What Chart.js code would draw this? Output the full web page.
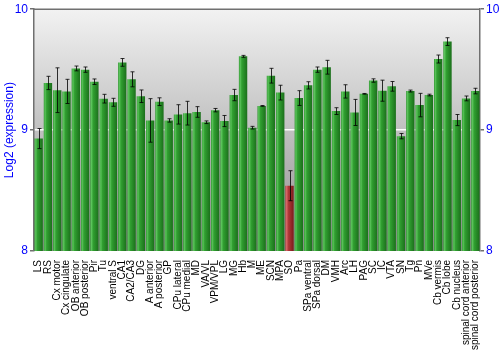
<!DOCTYPE html>
<html>
<head>
<meta charset="utf-8">
<script src="https://cdn.jsdelivr.net/npm/chart.js@4"></script>
<style>
  html, body { margin: 0; padding: 0; background: #fff; }
  #wrap { width: 500px; height: 350px; }
</style>
</head>
<body>
<div id="wrap"><canvas id="chart"></canvas></div>
<script>
const regions = ['LS', 'RS', 'Cx motor', 'Cx cingulate', 'OB anterior', 'OB posterior', 'Pir', 'Tu',
    'ventral S', 'CA1', 'CA2/CA3', 'DG', 'A anterior', 'A posterior', 'GP', 'CPu lateral', 'CPu medial',
    'MD', 'VA/VL', 'VPM/VPL', 'LG', 'MG', 'Hb', 'M', 'ME', 'SCN', 'MPA', 'SO', 'Pa', 'SPa ventral',
    'SPa dorsal', 'DM', 'VMH', 'Arc', 'LH', 'PAG', 'SC', 'IC', 'VTA', 'SN', 'Tg', 'Pn', 'MVe',
    'Cb vermis', 'Cb lobe', 'Cb nucleus', 'spinal cord anterior', 'spinal cord posterior'];

const expression = [8.93, 9.39, 9.33, 9.32, 9.51, 9.50, 9.40, 9.26,
    9.23, 9.56, 9.42, 9.28, 9.08, 9.235, 9.08, 9.13, 9.14,
    9.15, 9.065, 9.165, 9.075, 9.29, 9.61, 9.02, 9.20, 9.45, 9.31, 8.54, 9.265, 9.37,
    9.50, 9.52, 9.157, 9.32, 9.146, 9.30, 9.41, 9.326, 9.362, 8.95, 9.323, 9.207, 9.29,
    9.588, 9.732, 9.083, 9.262, 9.323];

const errors = [0.083, 0.055, 0.185, 0.10, 0.02, 0.022, 0.023, 0.036,
    0.033, 0.032, 0.062, 0.052, 0.18, 0.032, 0.014, 0.08, 0.098,
    0.044, 0.011, 0.014, 0.046, 0.047, 0.008, 0.011, 0.003, 0.061, 0.061, 0.124, 0.061, 0.03,
    0.022, 0.057, 0.028, 0.055, 0.108, 0.003, 0.014, 0.087, 0.04, 0.022, 0.008, 0.097, 0.007,
    0.033, 0.032, 0.046, 0.02, 0.023];

const highlighted = ['SO'];
const yTicks = [8, 9, 10];

const blue = '#0000ff';

function barFill(ctx) {
    const chart = ctx.chart;
    const x = chart.scales.x;
    if (!chart.chartArea || !x || ctx.dataIndex === undefined) return '#2f9b2f';
    const cx = x.getPixelForValue(ctx.dataIndex);
    const w = x.width / regions.length * 0.9;
    const g = chart.ctx.createLinearGradient(cx - w / 2, 0, cx + w / 2, 0);
    if (highlighted.includes(regions[ctx.dataIndex])) {
        g.addColorStop(0, '#a83232');
        g.addColorStop(0.15, '#d86a6a');
        g.addColorStop(0.35, '#b23a3a');
        g.addColorStop(1, '#7a1a1a');
    } else {
        g.addColorStop(0, '#2f932f');
        g.addColorStop(0.15, '#5cc45c');
        g.addColorStop(0.35, '#31a031');
        g.addColorStop(1, '#1b6f1b');
    }
    return g;
}

const backdrop = {
    id: 'backdrop',
    beforeDraw(chart) {
        const { ctx, chartArea: a } = chart;
        const g = ctx.createLinearGradient(0, a.top, 0, a.bottom);
        g.addColorStop(0, '#f2f2f2');
        g.addColorStop(1, '#8e8e8e');
        ctx.save();
        ctx.fillStyle = g;
        ctx.fillRect(a.left, a.top, a.right - a.left, a.bottom - a.top);
        ctx.strokeStyle = '#707070';
        ctx.lineWidth = 1.5;
        ctx.beginPath();
        ctx.moveTo(a.left, a.top);
        ctx.lineTo(a.right, a.top);
        ctx.stroke();
        ctx.restore();
    }
};

const errorBars = {
    id: 'errorBars',
    afterDatasetsDraw(chart) {
        const { ctx } = chart;
        const y = chart.scales.y;
        const meta = chart.getDatasetMeta(0);
        ctx.save();
        ctx.strokeStyle = 'rgba(0,0,0,0.8)';
        ctx.lineWidth = 1;
        meta.data.forEach((bar, i) => {
            const x = Math.round(bar.x) + 0.5;
            const hi = y.getPixelForValue(expression[i] + errors[i]);
            const lo = y.getPixelForValue(expression[i] - errors[i]);
            ctx.beginPath();
            ctx.moveTo(x, hi);
            ctx.lineTo(x, lo);
            ctx.moveTo(x - 2, hi);
            ctx.lineTo(x + 2, hi);
            ctx.moveTo(x - 2, lo);
            ctx.lineTo(x + 2, lo);
            ctx.stroke();
        });
        ctx.restore();
    }
};

const axisTicks = {
    min: 8,
    max: 10,
    afterBuildTicks: s => { s.ticks = yTicks.map(v => ({ value: v })); },
    ticks: { color: blue, font: { family: 'Liberation Sans, Arial, sans-serif', size: 12 }, padding: 2 },
    border: { display: true, color: '#707070', width: 1.5 },
    grid: {
        color: c => c.tick && c.tick.value === 9 ? '#ffffff' : 'rgba(0,0,0,0)',
        tickColor: '#707070',
        tickLength: 4,
        lineWidth: 1.5
    }
};

new Chart(document.getElementById('chart'), {
    type: 'bar',
    data: {
        labels: regions,
        datasets: [{
            data: expression,
            backgroundColor: barFill,
            borderWidth: 0,
            barPercentage: 0.9,
            categoryPercentage: 1.0
        }]
    },
    options: {
        responsive: true,
        maintainAspectRatio: false,
        animation: false,
        layout: { padding: { top: 9, left: 2, right: 0 } },
        plugins: { legend: { display: false }, tooltip: { enabled: false } },
        scales: {
            x: {
                grid: { display: false },
                border: { display: false },
                ticks: {
                    color: '#000',
                    font: { family: 'Liberation Sans, Arial, sans-serif', size: 10 },
                    minRotation: 90,
                    maxRotation: 90,
                    autoSkip: false,
                    padding: 1
                },
                afterFit: s => { s.height = 99; }
            },
            y: Object.assign({}, axisTicks, {
                position: 'left',
                title: { display: true, text: 'Log2 (expression)', color: blue,
                    font: { family: 'Liberation Sans, Arial, sans-serif', size: 12 }, padding: 0 },
                afterFit: s => { s.width = 32; }
            }),
            y2: Object.assign({}, axisTicks, {
                position: 'right',
                grid: Object.assign({}, axisTicks.grid, { drawOnChartArea: false }),
                afterFit: s => { s.width = 20; }
            })
        }
    },
    plugins: [backdrop, errorBars]
});
</script>
</body>
</html>
